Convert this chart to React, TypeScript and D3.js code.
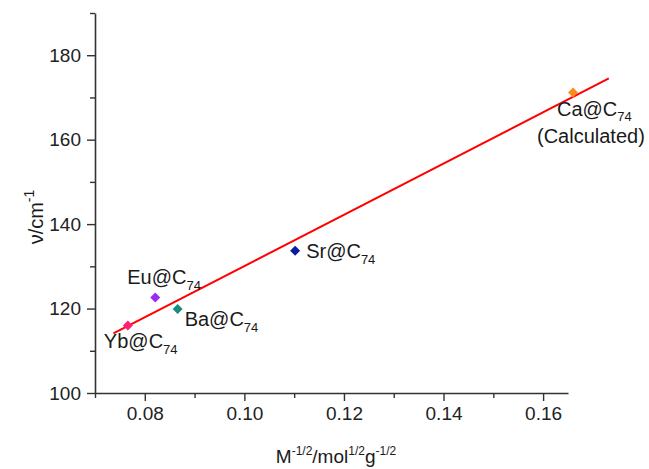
import { useEffect, useRef } from "react";
import * as d3 from "d3";

const compounds = ["Yb@C", "Eu@C", "Ba@C", "Sr@C", "Ca@C"];
const cageSub = "74";
const massTerm = [0.0766, 0.0821, 0.0866, 0.1102, 0.166];
const frequency = [116.0, 122.6, 119.9, 133.7, 171.2];
const pointColors = ["#ff1f78", "#9d2cf2", "#1b8a7f", "#0c1a9e", "#ff8a1c"];

const fitX = [0.0737, 0.1732];
const fitY = [114.1, 174.5];

const xMajor = [0.08, 0.1, 0.12, 0.14, 0.16];
const xMinor = [0.07, 0.09, 0.11, 0.13, 0.15];
const yMajor = [100, 120, 140, 160, 180];
const yMinor = [110, 130, 150, 170, 190];

// label placement relative to the marker (px)
const labelOffsets = [
  [-24, 23],
  [-28, -14],
  [7, 17],
  [11, 7],
  [-16, 24],
];

const W = 649;
const H = 469;
const FONT = "'Liberation Sans', Arial, Helvetica, sans-serif";

export default function App() {
  const svgRef = useRef<SVGSVGElement>(null);

  useEffect(() => {
    const svg = d3.select(svgRef.current);
    svg.selectAll("*").remove();

    const x = d3.scaleLinear().domain([0.07, 0.165]).range([95, 568]);
    const y = d3.scaleLinear().domain([100, 190]).range([393, 13]);
    const axisColor = "#333";

    // x axis
    const gx = svg.append("g").attr("transform", `translate(0,${y(100)})`);
    gx.call(
      d3.axisBottom(x).tickValues(xMajor).tickSize(8).tickPadding(6).tickSizeOuter(0)
        .tickFormat(d3.format(".2f") as any)
    );
    gx.append("g").call(
      d3.axisBottom(x).tickValues(xMinor).tickSize(5).tickSizeOuter(0).tickFormat(() => "")
    ).select(".domain").remove();

    // y axis
    const gy = svg.append("g").attr("transform", `translate(${x(0.07)},0)`);
    gy.call(
      d3.axisLeft(y).tickValues(yMajor).tickSize(8).tickPadding(6).tickSizeOuter(0)
        .tickFormat(d3.format("d") as any)
    );
    gy.append("g").call(
      d3.axisLeft(y).tickValues(yMinor).tickSize(5).tickSizeOuter(0).tickFormat(() => "")
    ).select(".domain").remove();

    svg.selectAll(".domain").attr("stroke", axisColor).attr("stroke-width", 1.6);
    svg.selectAll(".tick line").attr("stroke", axisColor).attr("stroke-width", 1.4);
    svg.selectAll(".tick text")
      .attr("font-family", FONT)
      .attr("font-size", 19)
      .attr("fill", "#222");

    // fit line
    svg.append("line")
      .attr("x1", x(fitX[0])).attr("y1", y(fitY[0]))
      .attr("x2", x(fitX[1])).attr("y2", y(fitY[1]))
      .attr("stroke", "#ff0000")
      .attr("stroke-width", 2);

    // markers
    const diamond = d3.symbol(d3.symbolSquare, 50);
    svg.selectAll("path.pt")
      .data(compounds)
      .join("path")
      .attr("class", "pt")
      .attr("d", diamond as any)
      .attr("fill", (_, i) => pointColors[i])
      .attr("transform", (_, i) => `translate(${x(massTerm[i])},${y(frequency[i])}) rotate(45)`);

    // labels
    compounds.forEach((c, i) => {
      const px = x(massTerm[i]);
      const py = y(frequency[i]);
      const last = i === compounds.length - 1;
      const t = svg.append("text")
        .attr("x", px + labelOffsets[i][0])
        .attr("y", py + labelOffsets[i][1])
        .attr("font-family", FONT)
        .attr("font-size", 20)
        .attr("fill", "#1a1a1a");
      t.append("tspan").text(c);
      t.append("tspan").attr("font-size", 13).attr("dy", last ? 5 : 6).text(cageSub);
      if (last) {
        svg.append("text")
          .attr("x", px - 36)
          .attr("y", py + 51)
          .attr("font-family", FONT)
          .attr("font-size", 20)
          .attr("fill", "#1a1a1a")
          .text("(Calculated)");
      }
    });

    // axis titles
    const xt = svg.append("text")
      .attr("x", 336)
      .attr("y", 463)
      .attr("text-anchor", "middle")
      .attr("font-family", FONT)
      .attr("font-size", 19)
      .attr("fill", "#1a1a1a");
    xt.append("tspan").text("M");
    xt.append("tspan").attr("font-size", 12).attr("dy", -8).text("-1/2");
    xt.append("tspan").attr("dy", 8).text("/mol");
    xt.append("tspan").attr("font-size", 12).attr("dy", -8).text("1/2");
    xt.append("tspan").attr("dy", 8).text("g");
    xt.append("tspan").attr("font-size", 12).attr("dy", -8).text("-1/2");

    const yt = svg.append("text")
      .attr("transform", "translate(43,217) rotate(-90)")
      .attr("text-anchor", "middle")
      .attr("font-family", FONT)
      .attr("font-size", 20)
      .attr("fill", "#1a1a1a");
    yt.append("tspan").text("ν/cm");
    yt.append("tspan").attr("font-size", 14).attr("dy", -9).text("-1");
  }, []);

  return (
    <svg
      ref={svgRef}
      width={W}
      height={H}
      style={{ position: "absolute", left: 0, top: 0, background: "#fff" }}
    />
  );
}
